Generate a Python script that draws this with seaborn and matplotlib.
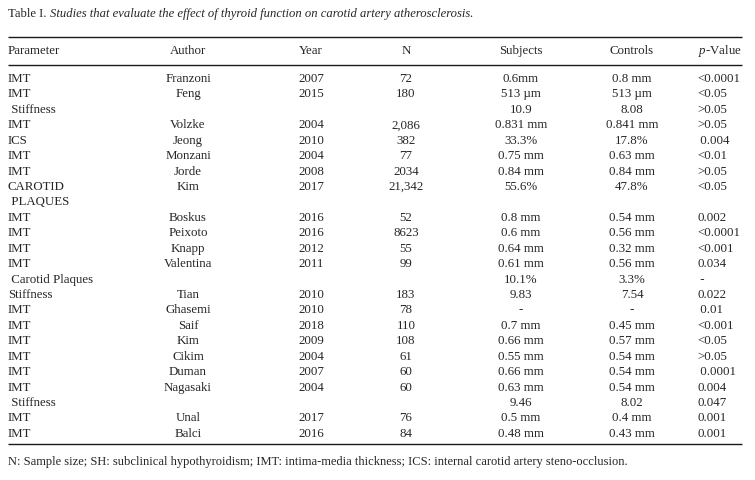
import matplotlib
matplotlib.use("Agg")
import matplotlib.pyplot as plt
import seaborn as sns

# table contents
parameter = ["IMT", "IMT", " Stiffness", "IMT", "ICS", "IMT", "IMT", "CAROTID", " PLAQUES",
             "IMT", "IMT", "IMT", "IMT", " Carotid Plaques", "Stiffness", "IMT", "IMT", "IMT",
             "IMT", "IMT", "IMT", " Stiffness", "IMT", "IMT"]
author = ["Franzoni", "Feng", "", "Volzke", "Jeong", "Monzani", "Jorde", "Kim", "",
          "Boskus", "Peixoto", "Knapp", "Valentina", "", "Tian", "Ghasemi", "Saif", "Kim",
          "Cikim", "Duman", "Nagasaki", "", "Unal", "Balci"]
year = ["2007", "2015", "", "2004", "2010", "2004", "2008", "2017", "",
        "2016", "2016", "2012", "2011", "", "2010", "2010", "2018", "2009",
        "2004", "2007", "2004", "", "2017", "2016"]
n_size = ["72", "180", "", "2,086", "382", "77", "2034", "21,342", "",
          "52", "8623", "55", "99", "", "183", "78", "110", "108",
          "61", "60", "60", "", "76", "84"]
subjects = ["0.6mm", "513 µm", "10.9", "0.831 mm", "33.3%", "0.75 mm", "0.84 mm", "55.6%", "",
            "0.8 mm", "0.6 mm", "0.64 mm", "0.61 mm", "10.1%", "9.83", "-", "0.7 mm", "0.66 mm",
            "0.55 mm", "0.66 mm", "0.63 mm", "9.46", "0.5 mm", "0.48 mm"]
controls = ["0.8 mm", "513 µm", "8.08", "0.841 mm", "17.8%", "0.63 mm", "0.84 mm", "47.8%", "",
            "0.54 mm", "0.56 mm", "0.32 mm", "0.56 mm", "3.3%", "7.54", "-", "0.45 mm", "0.57 mm",
            "0.54 mm", "0.54 mm", "0.54 mm", "8.02", "0.4 mm", "0.43 mm"]
p_value = ["<0.0001", "<0.05", ">0.05", ">0.05", " 0.004", "<0.01", ">0.05", "<0.05", "",
           "0.002", "<0.0001", "<0.001", "0.034", " -", "0.022", " 0.01", "<0.001", "<0.05",
           ">0.05", " 0.0001", "0.004", "0.047", "0.001", "0.001"]

headers = ["Parameter", "Author", "Year", "N", "Subjects", "Controls", r"$\mathit{p}$-Value"]
title_a = "Table I. "
title_b = "Studies that evaluate the effect of thyroid function on carotid artery atherosclerosis."
footnote = ("N: Sample size; SH: subclinical hypothyroidism; IMT: intima-media thickness; "
            "ICS: internal carotid artery steno-occlusion.")

sns.set_style("white")
plt.rcParams['font.family'] = ['Liberation Serif', 'DejaVu Serif']
plt.rcParams['mathtext.fontset'] = 'custom'
plt.rcParams['mathtext.it'] = 'Liberation Serif:italic'
plt.rcParams['mathtext.rm'] = 'Liberation Serif'

FS = 9.3
fig = plt.figure(figsize=(7.55, 4.8), dpi=100)
ax = fig.add_axes([0, 0, 1, 1])
ax.set_xlim(0, 755)
ax.set_ylim(480, 0)
ax.axis('off')

# title: plain part + italic part
t1 = ax.text(8, 14, title_a, fontsize=9.1, va='center', ha='left')
fig.canvas.draw()
bb = t1.get_window_extent(renderer=fig.canvas.get_renderer())
x_it = ax.transData.inverted().transform((bb.x1, 0))[0]
ax.text(x_it, 14, title_b, fontsize=9.1, va='center', ha='left', style='italic')

# rules
ax.hlines([37, 65, 444], 8, 742, color='#1a1a1a', lw=1.0)

# header
col_x = [8, 188, 311, 406, 521, 632, 742]
col_ha = ['left', 'center', 'center', 'center', 'center', 'center', 'right']
for x, ha, h in zip(col_x, col_ha, headers):
    ax.text(x, 51, h, fontsize=FS, va='center', ha=ha)

# rows
y0, step = 79, 15.43
cols = [parameter, author, year, n_size, subjects, controls]
for i in range(len(parameter)):
    y = y0 + i * step
    for x, ha, col in zip(col_x[:6], col_ha[:6], cols):
        if col[i]:
            ax.text(x, y, col[i], fontsize=FS, va='center', ha=ha)
    if p_value[i]:
        ax.text(697, y, p_value[i], fontsize=FS, va='center', ha='left')

ax.text(8, 462, footnote, fontsize=9.0, va='center', ha='left')

fig.savefig('out.png', dpi=100)
